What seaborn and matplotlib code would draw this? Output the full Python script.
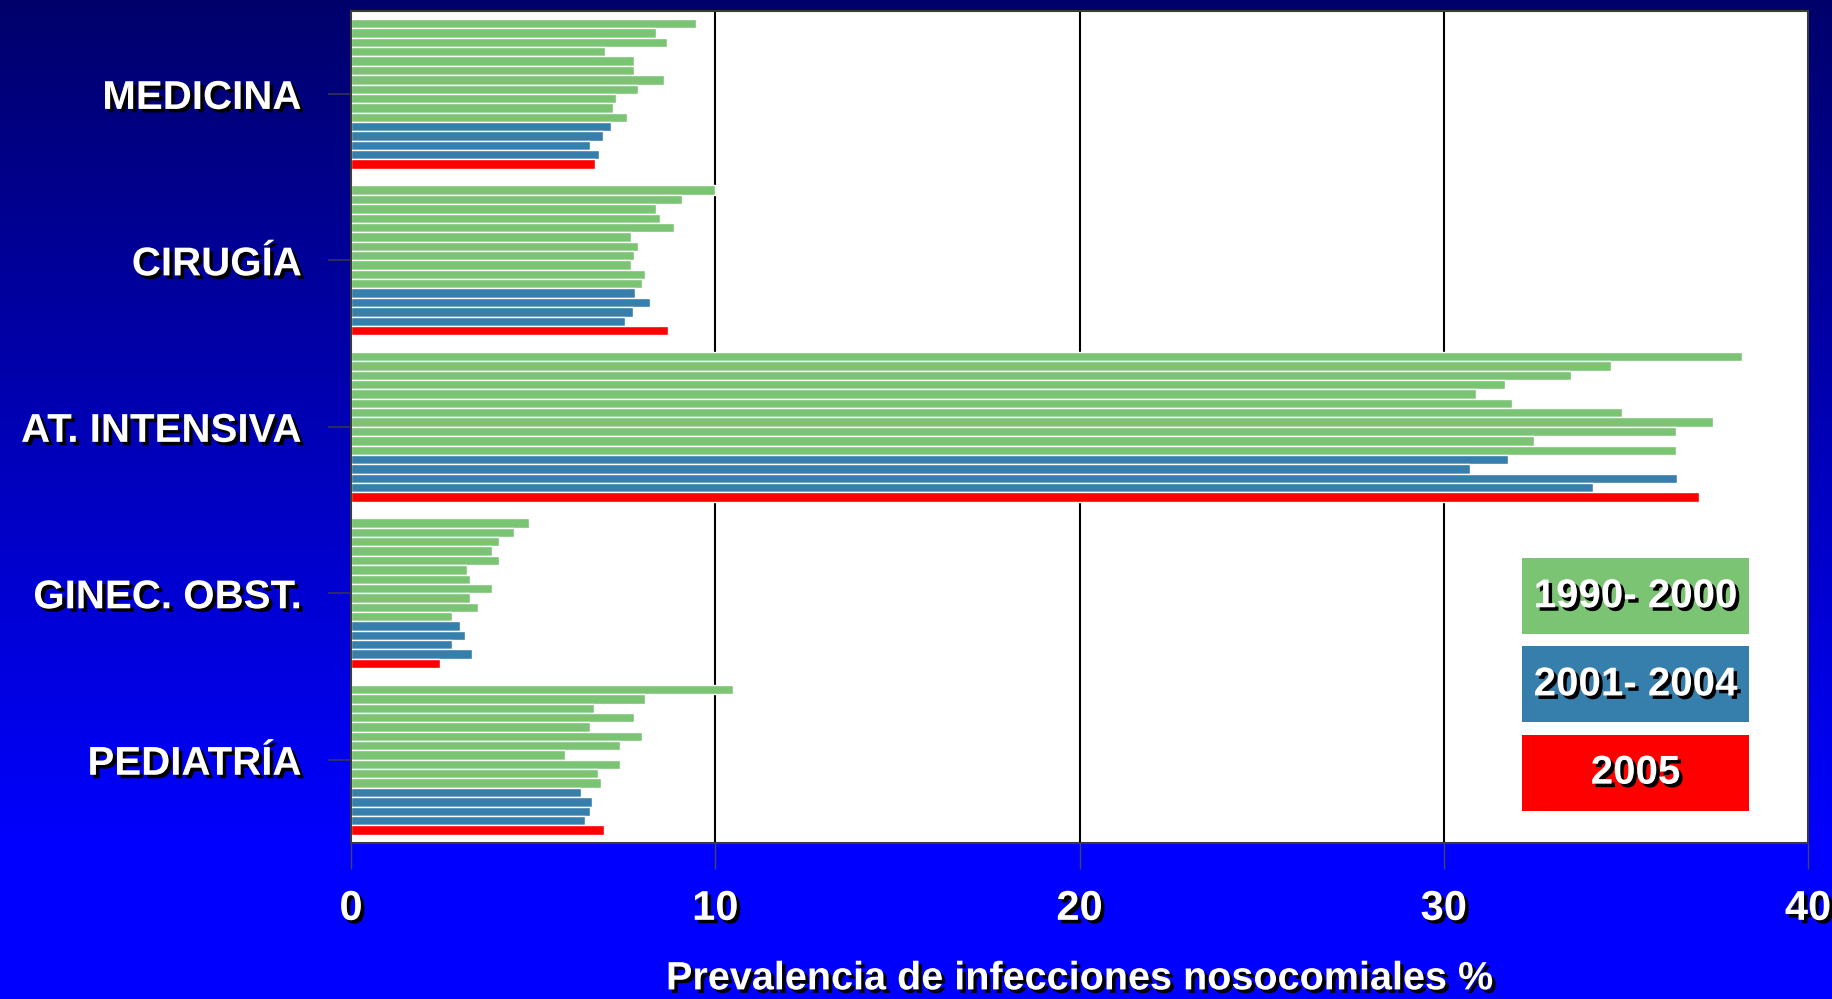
import numpy as np
import pandas as pd
import matplotlib
matplotlib.use("Agg")
import matplotlib.pyplot as plt
import matplotlib.patheffects as pe
from matplotlib.patches import Rectangle
import seaborn as sns

# ---- data ----
servicios = ["MEDICINA", "CIRUGÍA", "AT. INTENSIVA", "GINEC. OBST.", "PEDIATRÍA"]
anios = list(range(1990, 2006))  # 1990..2005 (16 years)

medicina = [9.47, 8.37, 8.67, 6.97, 7.77, 7.77, 8.58, 7.87, 7.28, 7.18, 7.57,
            7.14, 6.93, 6.56, 6.80, 6.71]
cirugia = [9.99, 9.08, 8.37, 8.47, 8.88, 7.68, 7.87, 7.77, 7.68, 8.07, 7.98,
           7.79, 8.20, 7.73, 7.52, 8.69]
intensiva = [38.18, 34.59, 33.48, 31.68, 30.89, 31.88, 34.88, 37.38, 36.38, 32.48, 36.38,
             31.77, 30.72, 36.40, 34.11, 37.00]
ginec = [4.88, 4.48, 4.07, 3.88, 4.07, 3.18, 3.27, 3.88, 3.27, 3.48, 2.78,
         2.99, 3.14, 2.76, 3.33, 2.45]
pediatria = [10.48, 8.07, 6.67, 7.77, 6.57, 7.98, 7.38, 5.88, 7.38, 6.77, 6.87,
             6.32, 6.63, 6.55, 6.43, 6.94]

periodos = ["1990- 2000", "2001- 2004", "2005"]
xticks = [0, 10, 20, 30, 40]
xlabel = "Prevalencia de infecciones nosocomiales %"

# ---- styling ----
GREEN = "#7BC474"
BLUE = "#367EAB"
RED = "#FF0000"
periodo_color = [GREEN, BLUE, RED]

valores = [medicina, cirugia, intensiva, ginec, pediatria]
rows = []
for s, vals in zip(servicios, valores):
    for a, v in zip(anios, vals):
        rows.append({"servicio": s, "anio": str(a), "valor": v})
df = pd.DataFrame(rows)

palette = {}
for a in anios:
    if a <= 2000:
        palette[str(a)] = GREEN
    elif a <= 2004:
        palette[str(a)] = BLUE
    else:
        palette[str(a)] = RED

sns.set_theme(style="white")
plt.rcParams["font.family"] = ["Liberation Sans", "DejaVu Sans"]
plt.rcParams["font.weight"] = "bold"

W, H = 1833, 999
fig = plt.figure(figsize=(W / 100, H / 100), dpi=100)

# background gradient
bg = fig.add_axes([0, 0, 1, 1], zorder=-10)
t = np.linspace(0, 1, 400)[:, None]
b = 0.42 + 0.58 * np.clip(t / 0.85, 0, 1)
grad = np.dstack([np.zeros_like(b), np.zeros_like(b), b])
bg.imshow(grad, aspect="auto", extent=[0, 1, 0, 1], origin="upper")
bg.axis("off")

left, right = 351 / W, 1808 / W
bottom, top = 1 - 843 / H, 1 - 10.7 / H
ax = fig.add_axes([left, bottom, right - left, top - bottom])
ax.set_facecolor("white")

sns.barplot(data=df, y="servicio", x="valor", hue="anio", order=servicios,
            hue_order=[str(a) for a in anios], palette=palette, orient="h",
            width=0.9, dodge=True, saturation=1, legend=False,
            edgecolor="white", linewidth=1.0, ax=ax)

ax.set_xlim(0, 40)
ax.set_ylim(len(servicios) - 0.5, -0.5)
ax.set_xticks(xticks)
ax.set_axisbelow(True)
for xv in xticks[1:-1]:
    ax.axvline(xv, color="black", lw=1.5, zorder=0)

shadow = [pe.SimplePatchShadow(offset=(2.5, -2.5), shadow_rgbFace="black", alpha=1.0), pe.Normal()]

ax.tick_params(axis="x", direction="out", length=19, width=1, color="#444466",
               pad=14, labelsize=30, labelcolor="white")
ax.tick_params(axis="y", direction="out", length=16.5, width=1.2, color="#333355",
               pad=19, labelsize=29, labelcolor="white")
ax.tick_params(bottom=True, left=True)
for lab in ax.get_xticklabels() + ax.get_yticklabels():
    lab.set_fontweight("bold")
    lab.set_path_effects(shadow)

ax.set_ylabel("")
ax.set_xlabel(xlabel, fontsize=28.5, fontweight="bold", color="white", labelpad=22)
ax.xaxis.label.set_path_effects(shadow)

for sp in ax.spines.values():
    sp.set_color("#3a3a3a")
    sp.set_linewidth(1.5)

# legend boxes
boxes = [(0.2509, 0.342), (0.1449, 0.2361), (0.0389, 0.1301)]
x0, x1 = 0.8037, 0.9595
for (y0, y1), lab, col in zip(boxes, periodos, periodo_color):
    ax.add_patch(Rectangle((x0, y0), x1 - x0, y1 - y0, transform=ax.transAxes,
                           facecolor=col, edgecolor="none", zorder=5))
    ax.text((x0 + x1) / 2, (y0 + y1) / 2, lab, transform=ax.transAxes,
            ha="center", va="center", fontsize=29, fontweight="bold",
            color="white", zorder=6, path_effects=shadow)

fig.savefig("out.png", dpi=100)
